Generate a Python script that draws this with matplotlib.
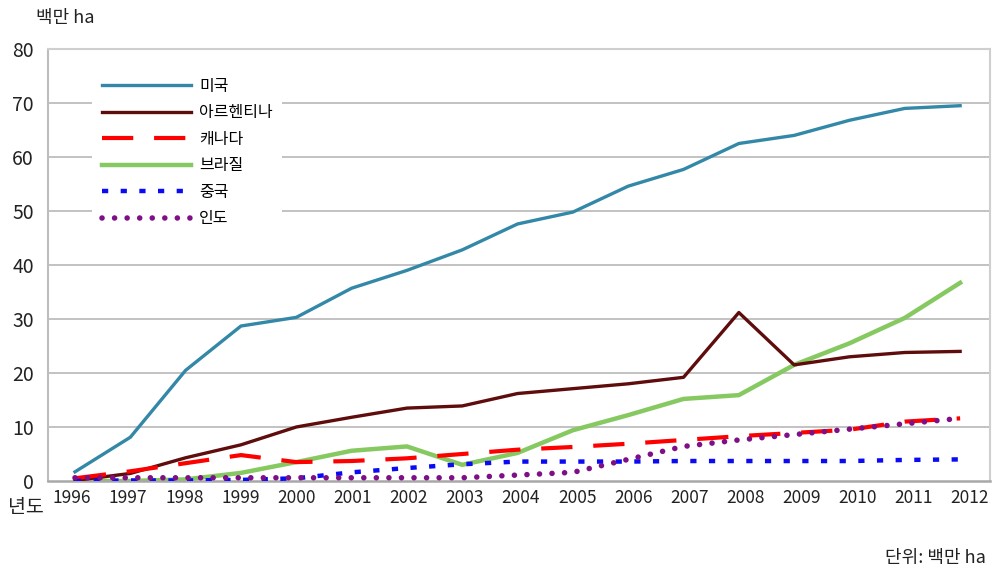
import matplotlib
matplotlib.use("Agg")
import matplotlib.pyplot as plt
import numpy as np

plt.rcParams['font.family'] = ['Noto Sans CJK KR', 'DejaVu Sans']

years = ['1996', '1997', '1998', '1999', '2000', '2001', '2002', '2003', '2004',
         '2005', '2006', '2007', '2008', '2009', '2010', '2011', '2012']
usa = [1.7, 8.1, 20.5, 28.7, 30.3, 35.7, 39.0, 42.8, 47.6, 49.8, 54.6, 57.7,
       62.5, 64.0, 66.8, 69.0, 69.5]
argentina = [0.1, 1.4, 4.3, 6.7, 10.0, 11.8, 13.5, 13.9, 16.2, 17.1, 18.0,
             19.2, 31.2, 21.5, 23.0, 23.8, 24.0]
canada = [0.5, 1.8, 3.3, 4.8, 3.5, 3.7, 4.2, 5.0, 5.8, 6.3, 6.9, 7.6, 8.3,
          8.9, 9.5, 11.0, 11.6]
brazil = [0.0, 0.0, 0.3, 1.5, 3.5, 5.6, 6.4, 3.0, 5.2, 9.4, 12.2, 15.2, 15.9,
          21.5, 25.5, 30.2, 36.7]
china = [0.0, 0.1, 0.1, 0.2, 0.5, 1.6, 2.4, 3.1, 3.6, 3.6, 3.6, 3.7, 3.7,
         3.7, 3.7, 3.9, 4.0]
india = [0.6, 0.6, 0.6, 0.6, 0.6, 0.6, 0.6, 0.6, 1.1, 1.6, 4.0, 6.4, 7.6,
         8.6, 9.6, 10.6, 11.6]
labels = ['미국', '아르헨티나', '캐나다', '브라질', '중국', '인도']
yticks = [0, 10, 20, 30, 40, 50, 60, 70, 80]

fig = plt.figure(figsize=(9.96, 5.75), dpi=100)
ax = fig.add_axes([48/996, 1-481/575, 942/996, 432/575])

x = np.arange(len(years))
for v in yticks[1:-1]:
    ax.axhline(v, color='#BDBDBD', lw=1.3, zorder=0)

ax.plot(x, usa, color='#3388A8', lw=2.4, label=labels[0], zorder=3)
ax.plot(x, argentina, color='#5E0C0C', lw=2.4, label=labels[1], zorder=3)
ax.plot(x, canada, color='#FF0000', lw=3.0, label=labels[2], zorder=4,
        dashes=(7.5, 5.0), dash_capstyle='butt')
ax.plot(x, brazil, color='#86C961', lw=3.2, label=labels[3], zorder=2)
ax.plot(x, china, color='#0A0AF5', lw=3.2, label=labels[4], zorder=4,
        dashes=(1.4, 2.8), dash_capstyle='butt')
ax.plot(x, india, color='#7F0F86', lw=4.0, label=labels[5], zorder=5,
        dashes=(0.01, 2.25), dash_capstyle='round')

ax.set_xlim(-0.488, 16.54)
ax.set_ylim(0, 80)
ax.set_yticks(yticks)
ax.set_yticklabels([str(v) for v in yticks], fontsize=14, color='#222222')
tickpos = -0.054 + 1.0145 * x
ax.set_xticks(tickpos)
ax.set_xticklabels(years, fontsize=12.5, color='#222222')
ax.tick_params(axis='both', length=0)
ax.tick_params(axis='y', pad=10)
ax.tick_params(axis='x', pad=6)

for side in ['top', 'right']:
    ax.spines[side].set_color('#CFCFCF')
    ax.spines[side].set_linewidth(1.5)
ax.spines['left'].set_color('#BDBDBD')
ax.spines['left'].set_linewidth(1.5)
ax.spines['bottom'].set_color('#A8A8A8')
ax.spines['bottom'].set_linewidth(1.8)

leg = ax.legend(loc='upper left', bbox_to_anchor=(36/942, 1-11/432),
                fontsize=11.5, frameon=True, fancybox=False, framealpha=1,
                edgecolor='none', facecolor='white', handlelength=5.6,
                handletextpad=0.5, labelspacing=0.6, borderpad=0.6,
                borderaxespad=0.5)
leg.set_zorder(10)

fig.text(36/996, 1-18/575, '백만 ha', fontsize=13, va='center', ha='left', color='#222222')
fig.text(8/996, 1-508/575, '년도', fontsize=14, va='center', ha='left', color='#222222')
fig.text(986/996, 1-558/575, '단위: 백만 ha', fontsize=13, va='center', ha='right', color='#222222')

fig.savefig('out.png', dpi=100)
